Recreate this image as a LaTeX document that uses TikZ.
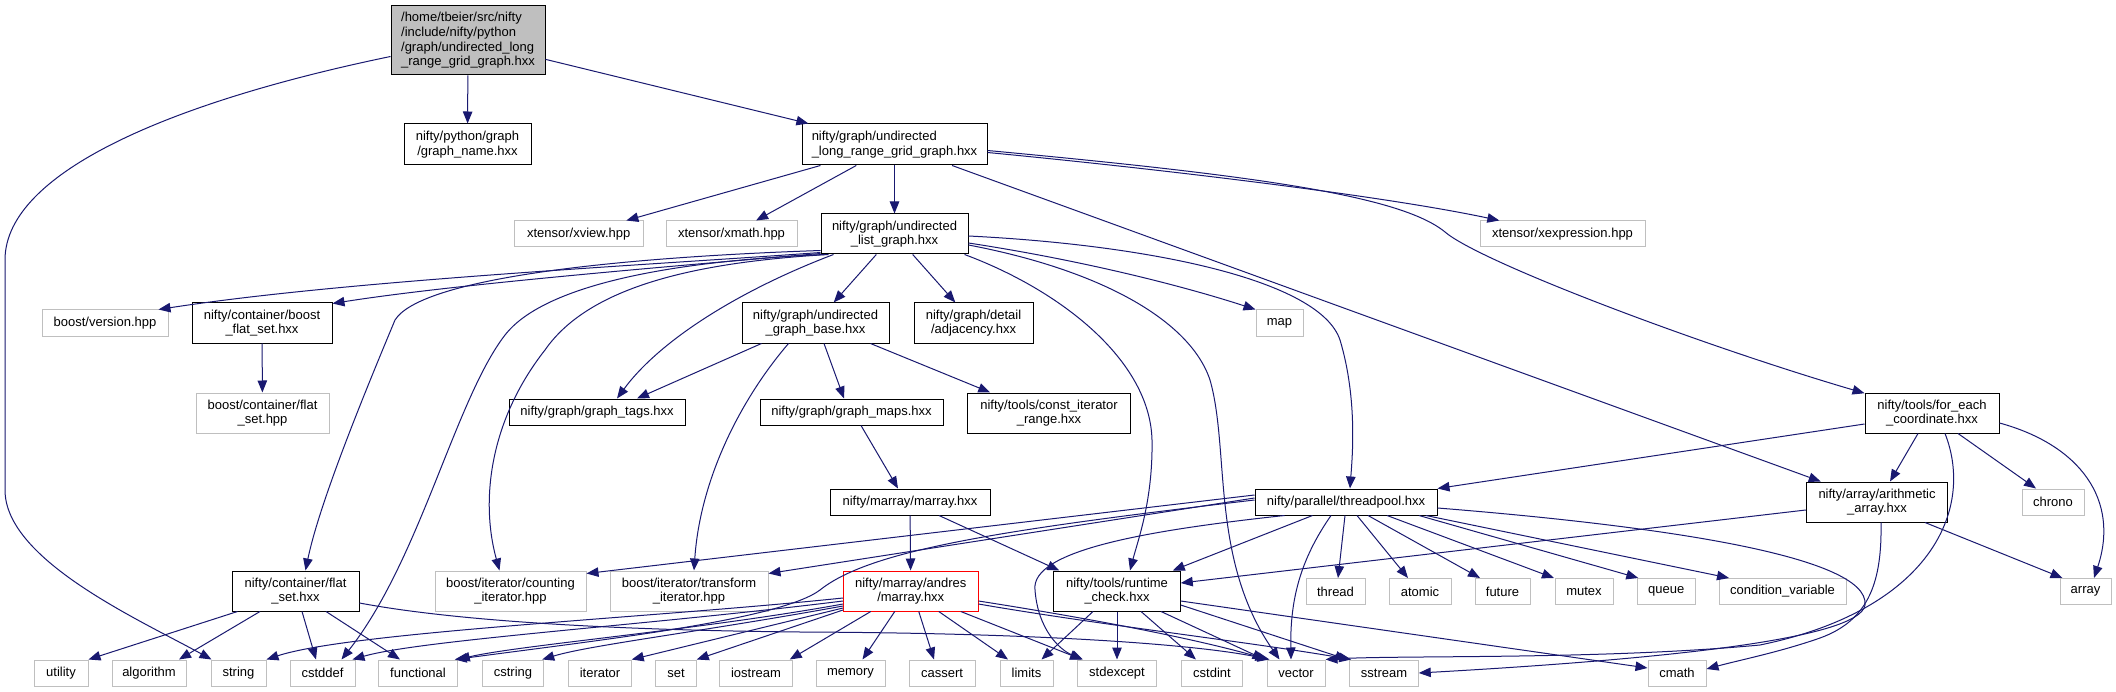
\documentclass[tikz,border=0pt]{standalone}
\usepackage{fontspec}
\setmainfont{Liberation Sans}
\usetikzlibrary{arrows.meta}
\definecolor{edgeblue}{HTML}{191970}
\definecolor{extgrey}{HTML}{BFBFBF}
\definecolor{rootfill}{HTML}{BFBFBF}
\tikzset{
  boxbase/.style={draw, rectangle, inner sep=0pt, line width=1pt, text=black,
    font=\fontsize{13}{14.7}\selectfont, align=center},
  boxdoc/.style={boxbase, draw=black},
  boxext/.style={boxbase, draw=extgrey},
  boxhot/.style={boxbase, draw=red},
  boxroot/.style={boxbase, draw=black, fill=rootfill, align=left},
  dep/.style={draw=edgeblue, line width=1pt, -{Triangle[length=12pt,width=9.5pt]}, fill=none},
}
\begin{document}
\begin{tikzpicture}[x=1pt,y=-1pt]
\useasboundingbox (0,0) rectangle (2116,692);
\fill[white] (0,0) rectangle (2116,692);

% ---- nodes ----
\node[boxroot, minimum width=154pt, minimum height=69pt] (root) at (468,40.5) {/home/tbeier/src/nifty\\/include/nifty/python\\/graph/undirected\_long\\\_range\_grid\_graph.hxx};
\node[boxdoc, minimum width=127pt, minimum height=41pt] (gn) at (467.5,144.5) {nifty/python/graph\\/graph\_name.hxx};
\node[boxdoc, align=left, minimum width=185pt, minimum height=41pt] (ulrgg) at (894.5,144.5) {nifty/graph/undirected\\\_long\_range\_grid\_graph.hxx};

\node[boxext, minimum width=128.5pt, minimum height=26pt] (xview) at (578.75,234) {xtensor/xview.hpp};
\node[boxext, minimum width=131pt, minimum height=26pt] (xmath) at (731.5,234) {xtensor/xmath.hpp};
\node[boxdoc, minimum width=147pt, minimum height=40pt] (ulg) at (894.5,234) {nifty/graph/undirected\\\_list\_graph.hxx};
\node[boxext, minimum width=165pt, minimum height=26pt] (xexpr) at (1562.5,234) {xtensor/xexpression.hpp};

\node[boxext, minimum width=126pt, minimum height=26pt] (bver) at (105,323) {boost/version.hpp};
\node[boxdoc, minimum width=140pt, minimum height=40pt] (bfs) at (262,323) {nifty/container/boost\\\_flat\_set.hxx};
\node[boxdoc, minimum width=147pt, minimum height=40pt] (ugb) at (815.5,323) {nifty/graph/undirected\\\_graph\_base.hxx};
\node[boxdoc, minimum width=119pt, minimum height=40pt] (adj) at (973.5,323) {nifty/graph/detail\\/adjacency.hxx};
\node[boxext, minimum width=47pt, minimum height=26pt] (map) at (1279.5,323) {map};

\node[boxext, minimum width=133pt, minimum height=40pt] (bcfs) at (262.5,413) {boost/container/flat\\\_set.hpp};
\node[boxdoc, minimum width=176pt, minimum height=26pt] (gtags) at (597,412) {nifty/graph/graph\_tags.hxx};
\node[boxdoc, minimum width=183pt, minimum height=26pt] (gmaps) at (851.5,412) {nifty/graph/graph\_maps.hxx};
\node[boxdoc, minimum width=162.5pt, minimum height=40pt] (citer) at (1049,413) {nifty/tools/const\_iterator\\\_range.hxx};
\node[boxdoc, minimum width=134pt, minimum height=40pt] (foreach) at (1932,413) {nifty/tools/for\_each\\\_coordinate.hxx};

\node[boxdoc, minimum width=160pt, minimum height=26pt] (marray) at (910,502) {nifty/marray/marray.hxx};
\node[boxdoc, minimum width=182pt, minimum height=26pt] (tpool) at (1346,502) {nifty/parallel/threadpool.hxx};
\node[boxdoc, minimum width=141.4pt, minimum height=40pt] (arith) at (1877,502) {nifty/array/arithmetic\\\_array.hxx};
\node[boxext, minimum width=62pt, minimum height=26pt] (chrono) at (2053,502) {chrono};

\node[boxdoc, minimum width=127pt, minimum height=40pt] (cflat) at (295.5,591) {nifty/container/flat\\\_set.hxx};
\node[boxext, minimum width=151pt, minimum height=40pt] (count) at (510.5,591) {boost/iterator/counting\\\_iterator.hpp};
\node[boxext, minimum width=158pt, minimum height=40pt] (trans) at (689,591) {boost/iterator/transform\\\_iterator.hpp};
\node[boxhot, minimum width=134.5pt, minimum height=40pt] (andres) at (910.75,591) {nifty/marray/andres\\/marray.hxx};
\node[boxdoc, minimum width=126.5pt, minimum height=40pt] (rcheck) at (1117,591) {nifty/tools/runtime\\\_check.hxx};
\node[boxext, minimum width=59pt, minimum height=26pt] (thread) at (1335.5,591.5) {thread};
\node[boxext, minimum width=62pt, minimum height=26pt] (atomic) at (1420,591.5) {atomic};
\node[boxext, minimum width=55pt, minimum height=26pt] (future) at (1502.5,591.5) {future};
\node[boxext, minimum width=58pt, minimum height=26pt] (mutex) at (1584,591.5) {mutex};
\node[boxext, minimum width=57.4pt, minimum height=26pt] (queue) at (1666.3,591.5) {queue};
\node[boxext, minimum width=127pt, minimum height=26pt] (condvar) at (1782.5,591.5) {condition\_variable};
\node[boxext, minimum width=51pt, minimum height=26pt] (array) at (2085.5,591.5) {array};

\node[boxext, minimum width=54pt, minimum height=26pt] (utility) at (61,673) {utility};
\node[boxext, minimum width=74pt, minimum height=26pt] (algorithm) at (149,673) {algorithm};
\node[boxext, minimum width=55pt, minimum height=26pt] (string) at (238.5,673) {string};
\node[boxext, minimum width=65pt, minimum height=26pt] (cstddef) at (322.5,673) {cstddef};
\node[boxext, minimum width=78.5pt, minimum height=26pt] (functional) at (418,673) {functional};
\node[boxext, minimum width=61.5pt, minimum height=26pt] (cstring) at (513,673) {cstring};
\node[boxext, minimum width=62.5pt, minimum height=26pt] (iterator) at (600,673) {iterator};
\node[boxext, minimum width=40.5pt, minimum height=26pt] (set) at (676,673) {set};
\node[boxext, minimum width=72.5pt, minimum height=26pt] (iostream) at (756,673) {iostream};
\node[boxext, minimum width=69pt, minimum height=26pt] (memory) at (850.5,673) {memory};
\node[boxext, minimum width=66pt, minimum height=26pt] (cassert) at (942,673) {cassert};
\node[boxext, minimum width=53pt, minimum height=26pt] (limits) at (1026.5,673) {limits};
\node[boxext, minimum width=79pt, minimum height=26pt] (stdexcept) at (1117,673) {stdexcept};
\node[boxext, minimum width=60.5pt, minimum height=26pt] (cstdint) at (1212,673) {cstdint};
\node[boxext, minimum width=58pt, minimum height=26pt] (vector) at (1296,673) {vector};
\node[boxext, minimum width=68.5pt, minimum height=26pt] (sstream) at (1384,673) {sstream};
\node[boxext, minimum width=58pt, minimum height=26pt] (cmath) at (1677,673) {cmath};

% ---- edges ----
% root
\draw[dep] (root) -- (gn);
\draw[dep] (root) -- (ulrgg);
\draw[dep] ([shift={(0,16)}]root.west) .. controls (180,100) and (5,170) .. (5,260) -- (5,490) .. controls (5,560) and (140,620) .. ([shift={(-27,0)}]string.north);

% ulrgg
\draw[dep] (ulrgg) -- (xview);
\draw[dep] (ulrgg) -- (xmath);
\draw[dep] (ulrgg) -- (ulg);
\draw[dep] ([shift={(0,8)}]ulrgg.east) .. controls (1150,168) and (1380,195) .. (xexpr);
\draw[dep] ([shift={(0,6)}]ulrgg.east) .. controls (1250,175) and (1400,195) .. (1445,232) .. controls (1480,262) and (1700,345) .. (foreach);
\draw[dep] (ulrgg) -- (arith);

% ulg
\draw[dep] ([shift={(0,-2)}]ulg.south west) .. controls (650,265) and (350,280) .. ([shift={(-10,0)}]bver.north east);
\draw[dep] ([shift={(0,-1)}]ulg.south west) .. controls (650,268) and (450,285) .. ([shift={(0,1)}]bfs.north east);
\draw[dep] ([shift={(0,-4)}]ulg.south west) .. controls (600,258) and (420,280) .. (395,320) .. controls (370,380) and (320,500) .. ([shift={(10,0)}]cflat.north);
\draw[dep] ([shift={(4,0)}]ulg.south west) .. controls (650,262) and (540,290) .. (505,335) .. controls (455,400) and (420,560) .. ([shift={(-14,0)}]cstddef.north east);
\draw[dep] ([shift={(8,0)}]ulg.south west) .. controls (700,262) and (590,285) .. (545,350) .. controls (490,420) and (480,500) .. ([shift={(-11,0)}]count.north);
\draw[dep] ([shift={(13,0)}]ulg.south west) .. controls (740,290) and (660,340) .. ([shift={(20,0)}]gtags.north);
\draw[dep] (ulg) -- (ugb);
\draw[dep] (ulg) -- (adj);
\draw[dep] ([shift={(0,9)}]ulg.east) .. controls (1080,260) and (1180,285) .. (map.north west);
\draw[dep] ([shift={(0,2)}]ulg.east) .. controls (1150,245) and (1320,280) .. (1340,340) .. controls (1358,400) and (1352,460) .. ([shift={(4,0)}]tpool.north);
\draw[dep] ([shift={(0,11)}]ulg.east) .. controls (1100,270) and (1190,320) .. (1210,380) .. controls (1230,450) and (1210,560) .. ([shift={(13,0)}]vector.north west);
\draw[dep] ([shift={(-4,0)}]ulg.south east) .. controls (1060,290) and (1150,360) .. (1152,440) .. controls (1153,500) and (1138,540) .. ([shift={(13,0)}]rcheck.north);

% ugb
\draw[dep] ([shift={(20,0)}]ugb.south west) -- ([shift={(40,0)}]gtags.north);
\draw[dep] ([shift={(47,0)}]ugb.south west) .. controls (740,400) and (700,480) .. ([shift={(5,0)}]trans.north);
\draw[dep] ([shift={(8.5,0)}]ugb.south) -- ([shift={(-7.5,0)}]gmaps.north);
\draw[dep] ([shift={(-19,0)}]ugb.south east) -- ([shift={(23,0)}]citer.north west);

% misc
\draw[dep] ([shift={(9.5,0)}]gmaps.south) -- ([shift={(-12,0)}]marray.north);
\draw[dep] (bfs) -- (bcfs);
\draw[dep] (marray) -- (andres);
\draw[dep] ([shift={(29,0)}]marray.south) -- ([shift={(6,0)}]rcheck.north west);

% cflat
\draw[dep] ([shift={(6,0)}]cflat.south west) -- (utility.north east);
\draw[dep] ([shift={(-35.5,0)}]cflat.south) -- ([shift={(30,0)}]algorithm.north);
\draw[dep] ([shift={(6.5,0)}]cflat.south) -- ([shift={(-6.5,0)}]cstddef.north);
\draw[dep] ([shift={(30.5,0)}]cflat.south) -- ([shift={(-18,0)}]functional.north);
\draw[dep] ([shift={(0,12)}]cflat.east) .. controls (450,620) and (600,630) .. (800,632) .. controls (1050,633) and (1200,645) .. ([shift={(3,0)}]vector.north west);

% andres
\draw[dep] ([shift={(0,7)}]andres.west) .. controls (650,618) and (350,632) .. (string.north east);
\draw[dep] ([shift={(0,10)}]andres.west) .. controls (650,625) and (420,640) .. ([shift={(-3,0)}]cstddef.north east);
\draw[dep] ([shift={(0,13)}]andres.west) .. controls (700,630) and (520,645) .. (functional.north east);
\draw[dep] ([shift={(0,15)}]andres.west) .. controls (700,632) and (590,645) .. ([shift={(-2,0)}]cstring.north east);
\draw[dep] ([shift={(0,17)}]andres.west) -- (iterator.north east);
\draw[dep] ([shift={(0,19)}]andres.west) -- (set.north east);
\draw[dep] ([shift={(-40,0)}]andres.south) -- ([shift={(-3,0)}]iostream.north east);
\draw[dep] ([shift={(-16,0)}]andres.south) -- ([shift={(12,0)}]memory.north);
\draw[dep] ([shift={(8,0)}]andres.south) -- ([shift={(-8,0)}]cassert.north);
\draw[dep] ([shift={(28,0)}]andres.south) -- ([shift={(-18.5,0)}]limits.north);
\draw[dep] ([shift={(50,0)}]andres.south) -- ([shift={(5,0)}]stdexcept.north west);
\draw[dep] ([shift={(0,10)}]andres.east) .. controls (1100,620) and (1200,640) .. ([shift={(1,0)}]vector.north west);
\draw[dep] ([shift={(0,13)}]andres.east) .. controls (1100,625) and (1250,642) .. ([shift={(2,0)}]sstream.north west);

% rcheck
\draw[dep] ([shift={(-24,0)}]rcheck.south) -- ([shift={(15,0)}]limits.north);
\draw[dep] (rcheck) -- (stdexcept);
\draw[dep] ([shift={(24,0)}]rcheck.south) -- ([shift={(-16,0)}]cstdint.north);
\draw[dep] ([shift={(44,0)}]rcheck.south) -- ([shift={(-2,0)}]vector.north west);
\draw[dep] ([shift={(0,14)}]rcheck.east) -- ([shift={(-2,0)}]sstream.north west);
\draw[dep] ([shift={(0,10)}]rcheck.east) -- ([shift={(0,-5)}]cmath.west);

% tpool
\draw[dep] ([shift={(0,-7)}]tpool.west) -- ([shift={(0,3)}]count.north east);
\draw[dep] ([shift={(0,-4)}]tpool.west) -- ([shift={(0,3)}]trans.north east);
\draw[dep] ([shift={(0,-2)}]tpool.west) .. controls (1000,530) and (870,550) .. (820,590) .. controls (780,620) and (600,640) .. ([shift={(-3,0)}]functional.north east);
\draw[dep] ([shift={(30,0)}]tpool.south west) .. controls (1150,530) and (1030,550) .. (1035,590) .. controls (1038,630) and (1060,650) .. ([shift={(6,0)}]stdexcept.north west);
\draw[dep] ([shift={(58,0)}]tpool.south west) -- ([shift={(-8,0)}]rcheck.north east);
\draw[dep] ([shift={(-15,0)}]tpool.south) .. controls (1300,560) and (1290,600) .. ([shift={(-5,0)}]vector.north);
\draw[dep] ([shift={(-1,0)}]tpool.south) -- ([shift={(2.5,0)}]thread.north);
\draw[dep] ([shift={(11,0)}]tpool.south) -- ([shift={(-12,0)}]atomic.north);
\draw[dep] ([shift={(22,0)}]tpool.south) -- ([shift={(-22.5,0)}]future.north);
\draw[dep] ([shift={(41,0)}]tpool.south) -- ([shift={(-30,0)}]mutex.north);
\draw[dep] ([shift={(73,0)}]tpool.south) -- ([shift={(-28,0)}]queue.north);
\draw[dep] ([shift={(80,0)}]tpool.south) -- ([shift={(-53.5,0)}]condvar.north);
\draw[dep] ([shift={(0,6)}]tpool.east) .. controls (1650,525) and (1870,555) .. (1865,605) .. controls (1860,640) and (1650,660) .. (sstream.east);

% foreach
\draw[dep] ([shift={(0,11)}]foreach.west) -- (tpool.north east);
\draw[dep] ([shift={(-14,0)}]foreach.south) -- ([shift={(13,0)}]arith.north);
\draw[dep] ([shift={(26,0)}]foreach.south) -- ([shift={(-17,0)}]chrono.north);
\draw[dep] ([shift={(0,10)}]foreach.east) .. controls (2080,445) and (2120,500) .. ([shift={(8.5,0)}]array.north);
\draw[dep] ([shift={(13,0)}]foreach.south) .. controls (1975,510) and (1930,610) .. (1760,645) .. controls (1600,660) and (1400,655) .. (vector.north east);

% arith
\draw[dep] ([shift={(0,8)}]arith.west) -- ([shift={(0,-8)}]rcheck.east);
\draw[dep] ([shift={(48,0)}]arith.south) -- ([shift={(3,0)}]array.north west);
\draw[dep] ([shift={(4,0)}]arith.south) .. controls (1882,580) and (1870,620) .. (1820,638) .. controls (1780,652) and (1740,660) .. ([shift={(0,-4)}]cmath.east);
\end{tikzpicture}
\end{document}
